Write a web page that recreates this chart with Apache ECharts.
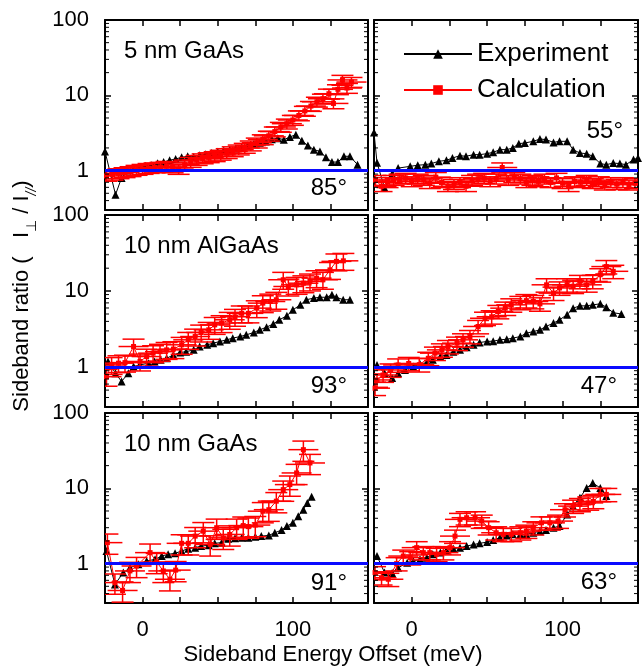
<!DOCTYPE html>
<html><head><meta charset="utf-8">
<script src="https://cdn.jsdelivr.net/npm/echarts@6/dist/echarts.min.js"></script>
<style>html,body{margin:0;padding:0;background:#fff}#c{width:644px;height:668px}</style>
</head><body><div id="c"></div>
<script>
// ---------- data ----------
const panelTitles = ['5 nm GaAs', '', '10 nm AlGaAs', '', '10 nm GaAs', ''];
const angleLabels = ['85°', '55°', '93°', '47°', '91°', '63°'];
const xTickLabels = ['0', '100'];
const yTickLabels = ['1', '10', '100'];
const minorTickValues = [0.4,0.5,0.6,0.7,0.8,0.9,2,3,4,5,6,7,8,9,20,30,40,50,60,70,80,90];
const legendNames = ['Experiment', 'Calculation'];
const xAxisTitle = 'Sideband Energy Offset (meV)';

const exp85 = [[-25,1.8],[-18,0.48],[-14,0.8],[-10,1.0],[-6,1.05],[-2,1.1],[2,1.15],[6,1.18],[10,1.25],[14,1.3],[18,1.37],[22,1.43],[26,1.5],[30,1.55],[34,1.52],[38,1.6],[42,1.65],[46,1.72],[50,1.78],[54,1.85],[58,1.9],[62,1.97],[66,2.05],[70,2.15],[74,2.25],[78,2.35],[82,2.44],[86,2.6],[90,2.7],[94,2.57],[98,2.8],[102,3.0],[106,2.5],[110,2.15],[114,1.9],[118,1.8],[122,1.5],[126,1.3],[130,1.3],[134,1.55],[138,1.55],[143,1.2]];
const calc85 = [[-24,0.85],[-20,0.88],[-16,0.92],[-12,0.95],[-8,0.98],[-4,1.02],[0,1.05],[4,1.08],[8,1.1],[12,1.12],[16,1.15],[20,1.1],[24,1.05],[28,1.2],[32,1.3],[36,1.38],[40,1.45],[44,1.5],[48,1.55],[52,1.62],[56,1.7],[60,1.8],[64,1.9],[68,2.0],[72,2.15],[76,2.35],[80,2.6],[84,2.9],[88,3.3],[92,3.8],[96,4.2],[100,4.7],[104,5.4],[108,6.2],[112,7.2],[116,8.2],[120,9.0],[124,10.5],[127,7.8],[130,12],[133,16],[136,12.5],[139,15]];

const exp55 = [[-25,3.2],[-23,1.27],[-18,0.59],[-13,0.9],[-9,1.08],[-1,1.14],[4,1.18],[9,1.2],[13,1.24],[18,1.33],[23,1.37],[27,1.47],[32,1.58],[36,1.55],[41,1.63],[45,1.63],[50,1.68],[54,1.75],[58.5,1.9],[63,1.9],[67,2.0],[71,2.28],[75,2.33],[80.6,2.45],[85,2.63],[89,2.58],[94,2.37],[98,2.45],[103,2.45],[107,1.9],[111.5,1.71],[116,1.68],[120,1.55],[125,1.24],[129,1.2],[133.6,1.26],[138,1.24],[142,1.2],[147,1.4],[150,1.47]];
const calc55 = [[-24,0.75],[-20,0.62],[-16,0.7],[-12,0.75],[-8,0.78],[-4,0.8],[0,0.72],[4,0.78],[8,0.75],[12,0.68],[16,0.82],[20,0.7],[24,0.62],[28,0.66],[32,0.7],[36,0.62],[40,0.75],[44,0.78],[48,0.8],[52,0.72],[56,0.78],[60,1.1],[64,0.75],[68,0.82],[72,0.78],[76,0.7],[80,0.75],[84,0.72],[88,0.78],[92,0.7],[96,0.8],[100,0.68],[104,0.62],[108,0.72],[112,0.7],[116,0.75],[120,0.68],[124,0.72],[128,0.65],[132,0.7],[136,0.66],[140,0.7],[144,0.65],[148,0.68]];

const exp93 = [[-23,1.19],[-18,0.83],[-14,0.65],[-9.5,0.83],[-6,1.02],[-2,1.07],[4,1.13],[8,1.19],[12,1.25],[16,1.31],[20.5,1.45],[25,1.56],[29,1.6],[34,1.69],[38,1.87],[43,1.97],[47,2.07],[51.5,2.18],[56,2.29],[60,2.41],[65,2.53],[69,2.66],[74,2.86],[78,3.1],[82.5,3.36],[87,3.7],[91,4.2],[96,4.73],[100,5.67],[105,6.6],[109,7.7],[114,8.1],[118,8.3],[122.5,8.3],[126,8.95],[129,8.3],[133.5,7.7],[138,7.7]];
const calc93 = [[-24,0.75],[-20.6,1.07],[-16,1.13],[-11.7,1.15],[-6,1.87],[-1.7,1.19],[2.7,1.38],[7,1.53],[11.6,1.6],[16,1.69],[20.5,1.73],[26,1.97],[30.4,2.29],[35,2.53],[39,2.86],[44,3.1],[48,3.6],[52.6,3.8],[58,4.2],[61.5,4.6],[66,5.1],[70.4,5.1],[76,5.97],[80,6.95],[85,7.3],[89,7.7],[93.6,14.1],[97,11.5],[102.5,12.1],[107,12.7],[111.4,13.4],[115.8,14.8],[120,14.1],[124.7,19],[129,24.6],[133.6,25]];

const exp47 = [[-23,1.07],[-18,0.83],[-13,0.72],[-9,0.83],[-4.5,0.92],[1,1.02],[5.5,1.1],[10,1.15],[14,1.25],[19,1.38],[23,1.45],[27.6,1.6],[32,1.69],[36.4,1.83],[41,1.97],[45,2.11],[50,2.18],[54,2.2],[58.5,2.29],[63,2.33],[67,2.41],[72,2.53],[76,2.8],[80.6,2.94],[85,3.1],[89,3.43],[94,3.8],[98,4.2],[103,4.9],[107,5.97],[111.5,6.4],[116,6.4],[120,6.6],[125,6.8],[129,6.15],[133.6,5.2],[139,5.0]];
const calc47 = [[-24.3,0.53],[-23,0.68],[-19,0.79],[-14,0.92],[-9,1.07],[-2,1.12],[5,1.08],[11,1.31],[15.4,1.53],[20,1.69],[24,1.87],[30,2.07],[34,2.29],[38.6,2.53],[44,3.43],[48.6,4.4],[53,4.6],[57.4,5.4],[62,5.97],[66,6.6],[72,7.1],[76,7.5],[80.6,7.3],[85,6.8],[89.4,12.1],[94,9.4],[98,11],[103,12.1],[107,11.6],[111.5,13.4],[116,12.1],[120,13.4],[125,16.4],[129,21],[133.6,18.2]];

const exp91 = [[-24,1.47],[-18.4,0.53],[-12.8,0.76],[-8.4,0.88],[-2.8,0.98],[2.7,1.08],[8.3,1.14],[12.7,1.26],[17,1.33],[21.6,1.37],[26,1.47],[30.4,1.58],[35,1.63],[39,1.71],[44,1.75],[48,1.86],[52.6,1.9],[57,2.14],[61.5,2.17],[66,2.2],[70.4,2.2],[75,2.27],[79,2.32],[84,2.37],[88,2.57],[92.5,2.79],[96,3.15],[100,3.48],[103.6,4.27],[107,5.2],[109.6,6.4],[112.5,7.7]];
const calc91 = [[-23.4,1.9],[-18.4,0.56],[-13.3,0.44],[-8.4,0.8],[-4,0.93],[5,1.4],[9.4,1.05],[13.8,0.8],[18.2,0.62],[22,0.82],[26,1.86],[30.4,1.86],[35,2.32],[40.4,2.7],[45,1.8],[49.3,3.0],[53.7,2.2],[58,2.44],[62.6,3.0],[67,3.2],[70.4,3.1],[75,3.25],[80,4.97],[84,5.2],[89,6.75],[93.6,9.6],[98,11.2],[102.5,16],[107,32.6],[111.4,21.7]];

const exp63 = [[-23,1.26],[-18,0.76],[-13,0.75],[-9,0.88],[-3,1.03],[1,1.08],[5.5,1.14],[10,1.2],[14,1.33],[19,1.4],[23,1.51],[27.6,1.58],[32,1.63],[36.4,1.71],[41,1.79],[45,1.86],[50,1.93],[54,2.06],[58.5,2.2],[63,2.37],[67,2.45],[72,2.45],[76,2.45],[80.6,2.57],[85,2.7],[89,2.79],[94,3.0],[98,3.15],[103,4.5],[107,5.8],[111.5,7.5],[116,10.1],[120,11.8],[125,10.1],[129,7.9]];
const calc63 = [[-24.3,0.76],[-20,0.65],[-15.5,0.62],[-10,1.0],[-5.6,1.26],[-1,1.2],[3.3,1.63],[7.7,1.4],[12,1.4],[16.5,1.33],[21,1.4],[25.4,1.63],[28.7,2.32],[32,3.87],[36.4,4.07],[42,4.07],[46.4,3.67],[51,3.0],[56,2.57],[60.7,2.45],[66,2.45],[72,2.57],[76,2.7],[80.6,3.0],[86,3.48],[91.6,3.48],[97,3.67],[101.6,5.2],[107,5.8],[111.5,6.1],[117,6.4],[120.4,6.7],[125,8.3],[129,8.3]];

const expData = [exp85, exp55, exp93, exp47, exp91, exp63];
const calcData = [calc85, calc55, calc93, calc47, calc91, calc63];
const calcRelErr = [0.15, 0.15, 0.25, 0.2, 0.3, 0.2];

// ---------- layout / style ----------
const FONT = "'Liberation Sans', Arial, Helvetica, sans-serif";
const X_MIN = -25, X_MAX = 150, Y_MIN = 0.3, Y_MAX = 100;
const gridBoxes = [
  {left:105, top:20, width:263, height:190},
  {left:374, top:20, width:264, height:190},
  {left:105, top:215, width:263, height:192},
  {left:374, top:215, width:264, height:192},
  {left:105, top:413, width:263, height:190},
  {left:374, top:413, width:264, height:190}
];

const grids = [], xAxes = [], yAxes = [], series = [], graphics = [];
const isMajorY = v => yTickLabels.includes(String(Math.round(v * 1000) / 1000));

function errItem(params, api) {
  const x = api.value(0), y = api.value(1), lo = api.value(2), hi = api.value(3);
  const p = api.coord([x, y]), pl = api.coord([x, lo]), ph = api.coord([x, hi]);
  const cap = 11, hw = 15;
  const st = {stroke:'#ff0000', lineWidth:1.5};
  return {type:'group', children:[
    {type:'line', shape:{x1:p[0], y1:pl[1], x2:p[0], y2:ph[1]}, style:st},
    {type:'line', shape:{x1:p[0]-cap, y1:pl[1], x2:p[0]+cap, y2:pl[1]}, style:st},
    {type:'line', shape:{x1:p[0]-cap, y1:ph[1], x2:p[0]+cap, y2:ph[1]}, style:st},
    {type:'line', shape:{x1:p[0]-hw, y1:p[1], x2:p[0]+hw, y2:p[1]}, style:st}
  ]};
}
function minorItem(params, api) {
  const v = api.value(1);
  const p = api.coord([X_MIN, v]);
  const cs = params.coordSys, L = 4;
  const st = {stroke:'#000', lineWidth:1};
  return {type:'group', children:[
    {type:'line', shape:{x1:cs.x, y1:p[1], x2:cs.x + L, y2:p[1]}, style:st},
    {type:'line', shape:{x1:cs.x + cs.width, y1:p[1], x2:cs.x + cs.width - L, y2:p[1]}, style:st}
  ]};
}

for (let i = 0; i < 6; i++) {
  grids.push(Object.assign({containLabel:false}, gridBoxes[i]));
  const axLine = {show:true, onZero:false, lineStyle:{color:'#000', width:2}};
  const bottomRow = i >= 4;
  xAxes.push({type:'value', gridIndex:i, min:X_MIN, max:X_MAX, interval:25, position:'bottom',
    axisLine:axLine, splitLine:{show:false},
    axisTick:{show:true, inside:true, length:6, lineStyle:{color:'#000', width:1.5}},
    axisLabel:{show:bottomRow, color:'#000', fontSize:22, fontFamily:FONT, margin:16,
      formatter: v => xTickLabels.includes(String(v)) ? String(v) : ''}});
  xAxes.push({type:'value', gridIndex:i, min:X_MIN, max:X_MAX, interval:25, position:'top',
    axisLine:axLine, splitLine:{show:false},
    axisTick:{show:true, inside:true, length:6, lineStyle:{color:'#000', width:1.5}},
    axisLabel:{show:false}});
  const leftCol = (i % 2) === 0;
  yAxes.push({type:'log', logBase:10, gridIndex:i, min:Y_MIN, max:Y_MAX, position:'left',
    axisLine:axLine, splitLine:{show:false}, minorTick:{show:false},
    axisTick:{show:true, inside:true, length:6, lineStyle:{color:'#000', width:1.5}},
    axisLabel:{show:leftCol, color:'#000', fontSize:22, fontFamily:FONT, margin:16,
      formatter: v => isMajorY(v) ? String(Math.round(v)) : ''}});
  yAxes.push({type:'log', logBase:10, gridIndex:i, min:Y_MIN, max:Y_MAX, position:'right',
    axisLine:axLine, splitLine:{show:false},
    axisTick:{show:true, inside:true, length:6, lineStyle:{color:'#000', width:1.5}},
    axisLabel:{show:false}});

  const xi = 2 * i, yi = 2 * i;
  series.push({type:'custom', name:'minorTicks', xAxisIndex:xi, yAxisIndex:yi, silent:true, z:6,
    renderItem:minorItem, data:minorTickValues.map(v => [X_MIN, v])});
  series.push({type:'line', name:'Experiment', xAxisIndex:xi, yAxisIndex:yi, data:expData[i],
    symbol:'triangle', symbolSize:8, showSymbol:true, clip:true, z:2,
    lineStyle:{color:'#000', width:1}, itemStyle:{color:'#000'}, animation:false});
  series.push({type:'line', name:'Calculation', xAxisIndex:xi, yAxisIndex:yi, data:calcData[i],
    symbol:'rect', symbolSize:5, showSymbol:true, clip:true, z:3,
    lineStyle:{color:'#ff0000', width:1}, itemStyle:{color:'#ff0000'}, animation:false,
    markLine:{silent:true, symbol:['none','none'], label:{show:false}, animation:false,
      lineStyle:{color:'#0a0aff', width:3, type:'solid'}, data:[{yAxis:1}]}});
  const r = calcRelErr[i];
  series.push({type:'custom', name:'calcErr', xAxisIndex:xi, yAxisIndex:yi, clip:true, z:3, silent:true,
    renderItem:errItem, encode:{x:0, y:1},
    data:calcData[i].map(d => [d[0], d[1], d[1] * (1 - r), d[1] * (1 + r)])});

  const g = gridBoxes[i];
  if (panelTitles[i]) {
    graphics.push({type:'text', left:g.left + 19, top:g.top + 19, z:10,
      style:{text:panelTitles[i], font:'24px ' + FONT, fill:'#000'}});
  }
}
// angle labels (right aligned)
const angleY = [188, 131, 386, 386, 583, 582];
const angleRight = [347, 623, 347, 617, 347, 617];
for (let i = 0; i < 6; i++) {
  graphics.push({type:'text', x:angleRight[i], y:angleY[i], z:10,
    style:{text:angleLabels[i], font:'24px ' + FONT, fill:'#000', align:'right', verticalAlign:'middle'}});
}
// axis titles
graphics.push({type:'text', x:333, y:655, z:10,
  style:{text:xAxisTitle, font:'22px ' + FONT, fill:'#000', align:'center', verticalAlign:'middle'}});
graphics.push({type:'text', x:25, y:296, rotation:Math.PI / 2, z:10,
  style:{text:'{n|Sideband ratio (   I}{s|⊥}{n| / I}{s2|//}{n|)}', fill:'#000', align:'center', verticalAlign:'middle',
    rich:{
      n:{fontSize:22, fontFamily:FONT, lineHeight:28, verticalAlign:'top', fill:'#000'},
      s:{fontSize:14, fontFamily:FONT, lineHeight:14, verticalAlign:'bottom', fill:'#000'},
      s2:{fontSize:14, fontFamily:FONT, fontStyle:'italic', lineHeight:14, verticalAlign:'bottom', fill:'#000'}
    }}});

const chart = echarts.init(document.getElementById('c'), null, {renderer:'canvas'});
chart.setOption({
  animation:false,
  backgroundColor:'#fff',
  textStyle:{fontFamily:FONT},
  grid:grids, xAxis:xAxes, yAxis:yAxes, series:series, graphic:graphics,
  legend:{data:legendNames, orient:'vertical', left:398, top:34, itemWidth:68, itemHeight:12, itemGap:6,
    textStyle:{fontSize:26, fontFamily:FONT, color:'#000', lineHeight:30}, selectedMode:false}
});
</script></body></html>
